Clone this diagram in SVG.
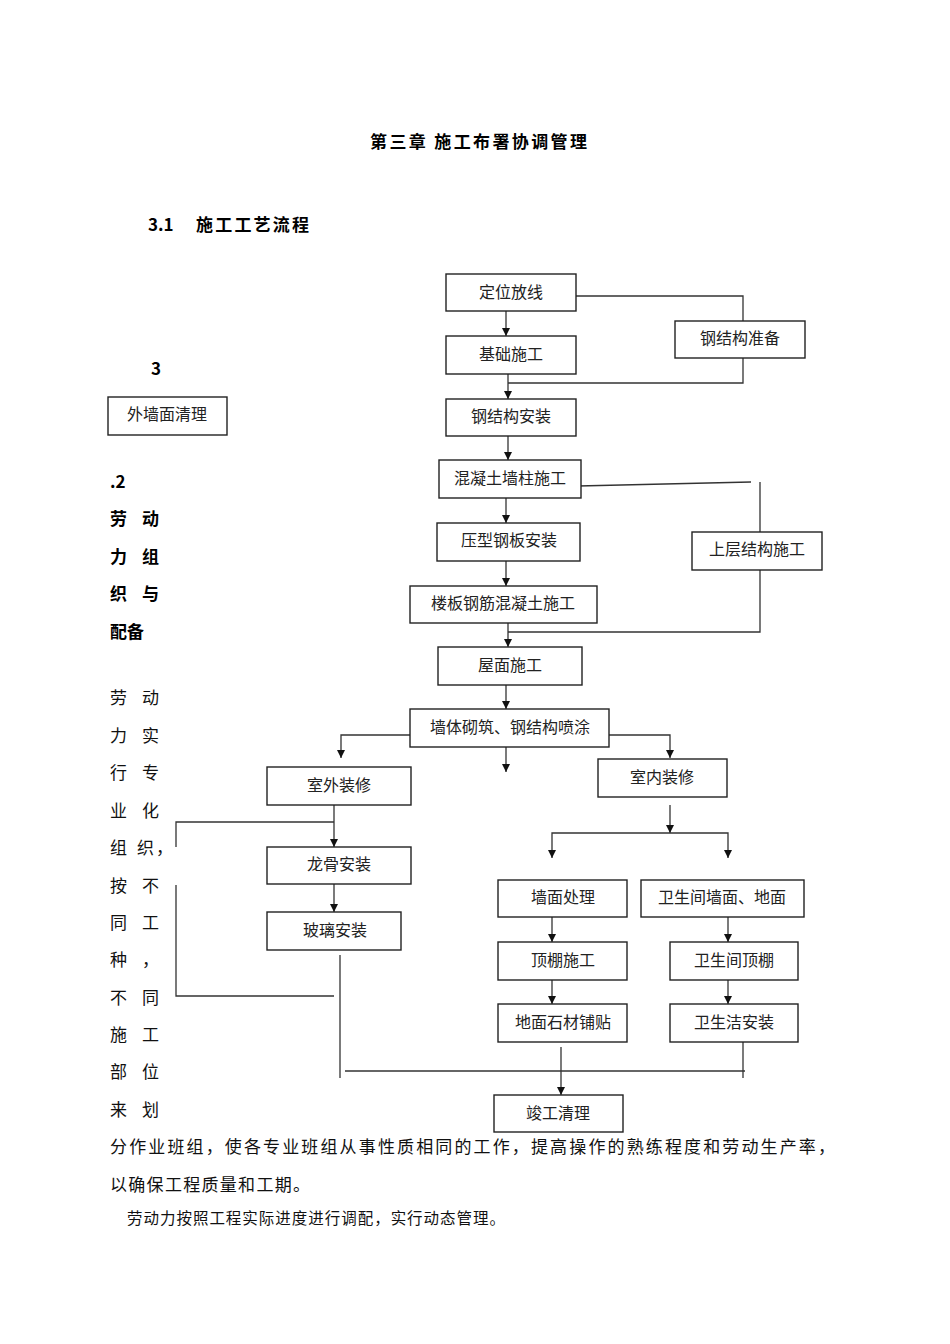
<svg xmlns="http://www.w3.org/2000/svg" width="950" height="1344" viewBox="0 0 950 1344">
<defs>
<marker id="ah" viewBox="0 0 10 10" refX="10" refY="5" markerWidth="9" markerHeight="8" markerUnits="userSpaceOnUse" orient="auto">
<path d="M0,0 L10,5 L0,10 z" fill="#111"/>
</marker>
<style>
.box{fill:#fff;stroke:#222;stroke-width:1.4}
.bt{font-family:"Noto Sans CJK SC","Liberation Sans",sans-serif;font-size:16px;fill:#222;text-anchor:middle}
.ln{fill:none;stroke:#333;stroke-width:1.3}
.ar{fill:none;stroke:#333;stroke-width:1.3;marker-end:url(#ah)}
.hd{font-family:"Noto Sans CJK SC","Liberation Sans",sans-serif;font-weight:bold;font-size:17px;fill:#000}
.tx{font-family:"Noto Sans CJK SC","Liberation Serif",serif;font-size:17px;fill:#111}
.tb{font-family:"Noto Sans CJK SC","Liberation Sans",sans-serif;font-weight:bold;font-size:17px;fill:#000}
</style>
</defs>
<rect width="950" height="1344" fill="#fff"/>

<!-- headings -->
<text class="hd" x="370" y="148" textLength="217" lengthAdjust="spacing">第三章 施工布署协调管理</text>
<text class="hd" x="148" y="231">3.1</text>
<text class="hd" x="196" y="231" textLength="113" lengthAdjust="spacing">施工工艺流程</text>

<!-- left column -->
<text class="tb" x="151" y="375">3</text>
<text class="tb" x="110" y="488">.2</text>
<g class="tb">
<text x="110" y="525">劳</text><text x="142" y="525">动</text>
<text x="110" y="563">力</text><text x="142" y="563">组</text>
<text x="110" y="600">织</text><text x="142" y="600">与</text>
<text x="110" y="638">配备</text>
</g>
<g class="tx">
<text x="110" y="704">劳</text><text x="142" y="704">动</text>
<text x="110" y="742">力</text><text x="142" y="742">实</text>
<text x="110" y="779">行</text><text x="142" y="779">专</text>
<text x="110" y="817">业</text><text x="142" y="817">化</text>
<text x="110" y="854">组</text><text x="137" y="854">织</text><text x="156" y="854">，</text>
<text x="110" y="892">按</text><text x="142" y="892">不</text>
<text x="110" y="929">同</text><text x="142" y="929">工</text>
<text x="110" y="966">种</text><text x="142" y="966">，</text>
<text x="110" y="1004">不</text><text x="142" y="1004">同</text>
<text x="110" y="1041">施</text><text x="142" y="1041">工</text>
<text x="110" y="1078">部</text><text x="142" y="1078">位</text>
<text x="110" y="1116">来</text><text x="142" y="1116">划</text>
</g>
<text class="tx" x="110" y="1153" textLength="725" lengthAdjust="spacing">分作业班组，使各专业班组从事性质相同的工作，提高操作的熟练程度和劳动生产率，</text>
<text class="tx" x="110" y="1191" textLength="200" lengthAdjust="spacing">以确保工程质量和工期。</text>
<text class="tx" x="127" y="1224" style="font-size:15.5px" textLength="378" lengthAdjust="spacing">劳动力按照工程实际进度进行调配，实行动态管理。</text>

<!-- connectors -->
<g id="connectors">
<path class="ln" d="M576,296 H743 V321 M743,358 V383 H508"/>
<path class="ar" d="M506,311 V336"/>
<path class="ar" d="M508,374 V399"/>
<path class="ar" d="M508,436 V460"/>
<path class="ln" d="M578,486 L751,482"/>
<path class="ln" d="M760,482 V532 M760,570 V632 H508"/>
<path class="ar" d="M506,498 V523"/>
<path class="ar" d="M506,561 V586"/>
<path class="ar" d="M508,623 V647"/>
<path class="ar" d="M506,685 V709"/>
<path class="ar" d="M410,735 H341 V758"/>
<path class="ar" d="M609,735 H670 V758"/>
<path class="ar" d="M506,747 V772"/>
<path class="ar" d="M334,805 V847"/>
<path class="ln" d="M334,822 H176 V847 M176,885 V996 H334"/>
<path class="ar" d="M334,884 V912"/>
<path class="ln" d="M340,955 V1078"/>
<path class="ar" d="M670,805 V833"/>
<path class="ar" d="M670,833 H552 V858"/>
<path class="ar" d="M670,833 H728 V858"/>
<path class="ar" d="M552,917 V942"/>
<path class="ar" d="M552,980 V1004"/>
<path class="ar" d="M728,917 V942"/>
<path class="ar" d="M728,980 V1004"/>
<path class="ln" d="M345,1071 H745"/>
<path class="ln" d="M743,1042 V1078"/>
<path class="ar" d="M561,1047 V1095"/>
</g>

<!-- nodes -->
<g id="n-dingwei"><rect class="box" x="446" y="274" width="130" height="37"/><text class="bt" x="511" y="298">定位放线</text></g>
<g id="n-jichu"><rect class="box" x="446" y="336" width="130" height="38"/><text class="bt" x="511" y="360">基础施工</text></g>
<g id="n-gangzhunbei"><rect class="box" x="675" y="321" width="130" height="37"/><text class="bt" x="740" y="344">钢结构准备</text></g>
<g id="n-gangazhuang"><rect class="box" x="446" y="399" width="130" height="37"/><text class="bt" x="511" y="422">钢结构安装</text></g>
<g id="n-hunningtu"><rect class="box" x="439" y="460" width="142" height="38"/><text class="bt" x="510" y="484">混凝土墙柱施工</text></g>
<g id="n-yaxing"><rect class="box" x="437" y="523" width="143" height="38"/><text class="bt" x="509" y="546">压型钢板安装</text></g>
<g id="n-shangceng"><rect class="box" x="692" y="532" width="130" height="38"/><text class="bt" x="757" y="555">上层结构施工</text></g>
<g id="n-louban"><rect class="box" x="410" y="586" width="187" height="37"/><text class="bt" x="503" y="609">楼板钢筋混凝土施工</text></g>
<g id="n-wumian"><rect class="box" x="438" y="647" width="144" height="38"/><text class="bt" x="510" y="671">屋面施工</text></g>
<g id="n-qiangti"><rect class="box" x="410" y="709" width="199" height="38"/><text class="bt" x="510" y="733">墙体砌筑、钢结构喷涂</text></g>
<g id="n-waiqiang"><rect class="box" x="108" y="397" width="119" height="38"/><text class="bt" x="167" y="420">外墙面清理</text></g>
<g id="n-shiwai"><rect class="box" x="267" y="767" width="144" height="38"/><text class="bt" x="339" y="791">室外装修</text></g>
<g id="n-shinei"><rect class="box" x="598" y="759" width="129" height="38"/><text class="bt" x="662" y="783">室内装修</text></g>
<g id="n-longgu"><rect class="box" x="267" y="847" width="144" height="37"/><text class="bt" x="339" y="870">龙骨安装</text></g>
<g id="n-boli"><rect class="box" x="267" y="912" width="134" height="38"/><text class="bt" x="335" y="936">玻璃安装</text></g>
<g id="n-qiangmian"><rect class="box" x="498" y="880" width="129" height="37"/><text class="bt" x="563" y="903">墙面处理</text></g>
<g id="n-weiqiang"><rect class="box" x="641" y="880" width="163" height="37"/><text class="bt" x="722" y="903">卫生间墙面、地面</text></g>
<g id="n-dingpeng"><rect class="box" x="498" y="942" width="129" height="38"/><text class="bt" x="563" y="966">顶棚施工</text></g>
<g id="n-weiding"><rect class="box" x="670" y="942" width="128" height="38"/><text class="bt" x="734" y="966">卫生间顶棚</text></g>
<g id="n-dimian"><rect class="box" x="498" y="1004" width="129" height="38"/><text class="bt" x="563" y="1028">地面石材铺贴</text></g>
<g id="n-weijie"><rect class="box" x="670" y="1004" width="128" height="38"/><text class="bt" x="734" y="1028">卫生洁安装</text></g>
<g id="n-jungong"><rect class="box" x="494" y="1095" width="129" height="37"/><text class="bt" x="558" y="1119">竣工清理</text></g>
</svg>
